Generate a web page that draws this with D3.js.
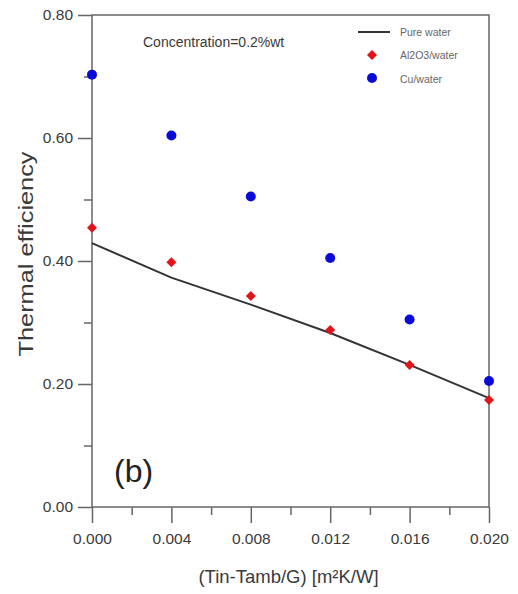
<!DOCTYPE html>
<html><head><meta charset="utf-8">
<script src="https://cdn.jsdelivr.net/npm/d3@7"></script>
<style>body{margin:0;background:#fff;} svg{display:block;font-family:"Liberation Sans",Arial,sans-serif;}</style>
</head><body><svg id="c" width="518" height="594"></svg>
<script>
const xValues = [0.000, 0.004, 0.008, 0.012, 0.016, 0.020];
const pureWater = [0.429, 0.373, 0.329, 0.283, 0.231, 0.177];
const al2o3Water = [0.454, 0.398, 0.343, 0.288, 0.231, 0.174];
const cuWater = [0.703, 0.604, 0.505, 0.405, 0.305, 0.205];
const xTicks = [0.000, 0.004, 0.008, 0.012, 0.016, 0.020];
const yTicks = [0.00, 0.20, 0.40, 0.60, 0.80];
const seriesNames = ["Pure water", "Al2O3/water", "Cu/water"];

const svg = d3.select("#c");
const L = 92, R = 489, T = 15, B = 507;
const x = d3.scaleLinear().domain([0, 0.020]).range([L, R]);
const y = d3.scaleLinear().domain([0, 0.80]).range([B, T]);
const axisCol = "#666", textCol = "#3a3a3a";

// frame
svg.append("rect").attr("x", L).attr("y", T).attr("width", R - L).attr("height", B - T)
  .attr("fill", "none").attr("stroke", axisCol).attr("stroke-width", 1.5);

// minor ticks
const gxm = svg.append("g").attr("transform", `translate(0,${B})`)
  .call(d3.axisBottom(x).tickValues(d3.range(0.002, 0.020, 0.004)).tickSize(8).tickFormat(""));
const gym = svg.append("g").attr("transform", `translate(${L},0)`)
  .call(d3.axisLeft(y).tickValues([0.1, 0.3, 0.5, 0.7]).tickSize(8).tickFormat(""));
// major
const gx = svg.append("g").attr("transform", `translate(0,${B})`)
  .call(d3.axisBottom(x).tickValues(xTicks).tickSize(16).tickPadding(10).tickFormat(d3.format(".3f")));
const gy = svg.append("g").attr("transform", `translate(${L},0)`)
  .call(d3.axisLeft(y).tickValues(yTicks).tickSize(14).tickPadding(5).tickFormat(d3.format(".2f")));
[gxm, gym, gx, gy].forEach(g => {
  g.select(".domain").remove();
  g.selectAll("line").attr("stroke", axisCol).attr("stroke-width", 1.5);
  g.selectAll("text").attr("fill", textCol).style("font-size", "15.5px").style("font-family", "'Liberation Sans',Arial,sans-serif");
});

// titles
svg.append("text").attr("x", (L + R) / 2 - 2).attr("y", 583).attr("text-anchor", "middle")
  .attr("fill", textCol).style("font-size", "18.5px").text("(Tin-Tamb/G) [m²K/W]");
svg.append("text").attr("transform", "translate(33,254) rotate(-90)").attr("text-anchor", "middle")
  .attr("fill", textCol).style("font-size", "21px")
  .attr("textLength", 205).attr("lengthAdjust", "spacingAndGlyphs").text("Thermal efficiency");

// annotation
svg.append("text").attr("x", 143).attr("y", 47).attr("fill", textCol).style("font-size", "14px").text("Concentration=0.2%wt");
svg.append("text").attr("x", 114).attr("y", 482).attr("fill", "#222").style("font-size", "32px").text("(b)");

// line
const line = d3.line().x((d, i) => x(xValues[i])).y(d => y(d));
svg.append("path").datum(pureWater).attr("d", line).attr("fill", "none")
  .attr("stroke", "#333").attr("stroke-width", 2);

const red = "#e3131b", blue = "#0a0ad8";
const diamond = d3.symbol().type(d3.symbolSquare).size(50);
svg.append("g").selectAll("path").data(al2o3Water).join("path")
  .attr("transform", (d, i) => `translate(${x(xValues[i])},${y(d)}) rotate(45)`)
  .attr("d", diamond).attr("fill", red);
svg.append("g").selectAll("circle").data(cuWater).join("circle")
  .attr("cx", (d, i) => x(xValues[i])).attr("cy", d => y(d)).attr("r", 5).attr("fill", blue);

// legend
const lg = svg.append("g");
lg.append("line").attr("x1", 358).attr("x2", 390).attr("y1", 32).attr("y2", 32).attr("stroke", "#333").attr("stroke-width", 2);
lg.append("path").attr("transform", "translate(372,55) rotate(45)").attr("d", diamond).attr("fill", red);
lg.append("circle").attr("cx", 372).attr("cy", 78).attr("r", 5).attr("fill", blue);
[32, 55, 79].forEach((yy, i) => {
  lg.append("text").attr("x", 400).attr("y", yy + 3.5).attr("fill", "#666").style("font-size", "10.5px").text(seriesNames[i]);
});
</script></body></html>
